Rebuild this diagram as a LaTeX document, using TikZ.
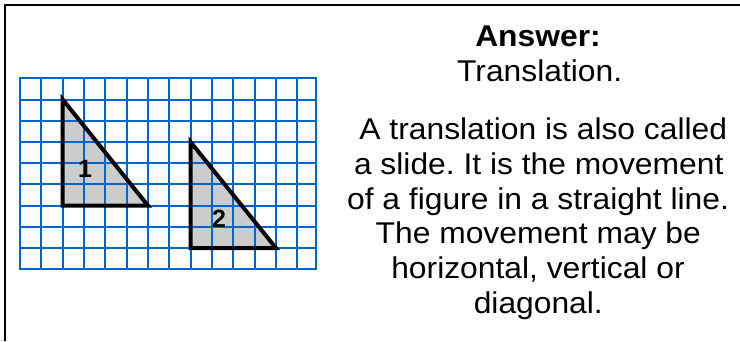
\documentclass[tikz,border=0pt]{standalone}
\usepackage{fontspec}
\setmainfont{Liberation Sans}
\newfontfamily\wide[FakeStretch=1.06]{Liberation Sans}
\definecolor{gridblue}{RGB}{0,102,204}
\definecolor{trifill}{RGB}{204,204,204}
\frenchspacing
\begin{document}
\begin{tikzpicture}[x=1pt,y=-1pt,
  txt/.style={anchor=base,inner sep=0pt,font=\wide\fontsize{30}{34}\selectfont},
  btxt/.style={anchor=base,inner sep=0pt,font=\wide\bfseries\fontsize{30}{34}\selectfont},
  num/.style={inner sep=0pt,font=\bfseries\fontsize{25}{25}\selectfont},
  gridline/.style={gridblue,line width=2pt},
  tri/.style={fill=trifill},
  triline/.style={draw=black,line width=4pt},
  frameline/.style={black,line width=2pt}]
\useasboundingbox (0,0) rectangle (740,341);
% frame
\draw[frameline] (5,341) -- (5,5) -- (740,5);
% triangle fills
\fill[tri] (62.7,99.5) -- (62.7,205.6) -- (148.0,205.6) -- cycle;
\fill[tri] (190.6,142.0) -- (190.6,248.1) -- (276.0,248.1) -- cycle;
% grid
\foreach \i in {0,...,13} {
  \draw[gridline] ({20+21.33*\i},78.3) -- ({20+21.33*\i},269.3);
}
\draw[gridline] (316,78.3) -- (316,269.3);
\foreach \j in {0,...,9} {
  \draw[gridline] (19,{78.3+21.22*\j}) -- (317,{78.3+21.22*\j});
}
% triangle outlines
\draw[triline] (62.7,99.5) -- (62.7,205.6) -- (148.0,205.6) -- cycle;
\draw[triline] (190.6,142.0) -- (190.6,248.1) -- (276.0,248.1) -- cycle;
\node[num] (n1) at (85,168.7) {1};
\node[num] (n2) at (219,218.7) {2};
% text
\node[btxt] (ans) at (538,46.7) {Answer:};
\node[txt] (tr) at (539.7,81) {Translation.};
\node[txt] (l1) at (543.3,139.3) {A translation is also called};
\node[txt] (l2) at (538.7,174) {a slide. It is the movement};
\node[txt] (l3) at (538,209.3) {of a figure in a straight line.};
\node[txt] (l4) at (538.3,243.3) {The movement may be};
\node[txt] (l5) at (538,278.3) {horizontal, vertical or};
\node[txt] (l6) at (538.3,313.3) {diagonal.};
\end{tikzpicture}
\end{document}
